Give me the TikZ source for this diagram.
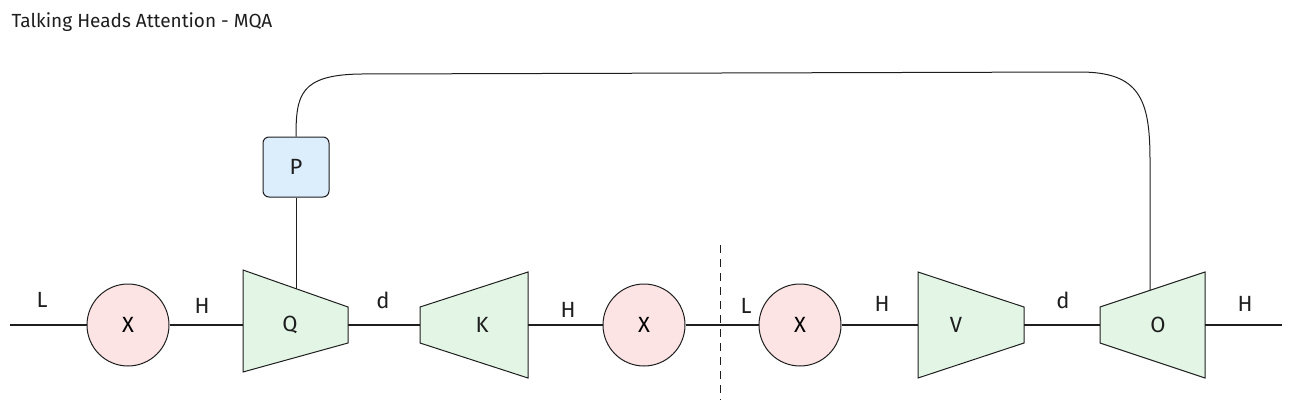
\documentclass[tikz,border=0pt]{standalone}
\usepackage{fontspec}
\setmainfont{Fira Sans}
\usetikzlibrary{patterns}
\definecolor{redf}{HTML}{FCE4E4}
\definecolor{greenf}{HTML}{E3F6E6}
\definecolor{bluef}{HTML}{DCEEFC}
\definecolor{ink}{HTML}{1E1E1E}
\tikzset{
  wire/.style={draw=ink,line width=1.2pt},
  mul/.style={circle,draw=ink,line width=1pt,fill=redf,minimum size=82pt,inner sep=0pt,font=\fontsize{22}{22}\selectfont},
  trap/.style={draw=ink,line width=1pt,fill=greenf},
  lbl/.style={font=\fontsize{22}{22}\selectfont,text=ink},
}
\begin{document}
\begin{tikzpicture}[x=1pt,y=-1pt]
\useasboundingbox (0,0) rectangle (1290,408);
\node[anchor=west,font=\fontsize{19}{19}\selectfont,text=ink] (title) at (8,22) {Talking Heads Attention - MQA};
% circles
\node[mul] (x1) at (128,325) {X};
\node[mul] (x2) at (644,325) {X};
\node[mul] (x3) at (800,325) {X};
% trapezoids
\draw[trap] (243,270) -- (348,307) -- (348,343) -- (243,372) -- cycle;
\node[lbl] (q) at (290,325) {Q};
\draw[trap] (420,307) -- (528,272) -- (528,378) -- (420,343) -- cycle;
\node[lbl] (k) at (482,325) {K};
\draw[trap] (918,272) -- (1024,307) -- (1024,343) -- (918,378) -- cycle;
\node[lbl] (v) at (956,325) {V};
\draw[trap] (1100,307) -- (1205,272) -- (1205,378) -- (1100,343) -- cycle;
\node[lbl] (o) at (1158,325) {O};
% P box
\node[draw=ink,line width=1pt,fill=bluef,rounded corners=6pt,minimum width=66pt,minimum height=60pt,lbl] (p) at (296,167) {P};
% coordinates
\coordinate (s) at (10,325);
\coordinate (e) at (1282,325);
\coordinate (qin) at (243,325);
\coordinate (qout) at (348,325);
\coordinate (kin) at (420,325);
\coordinate (kout) at (528,325);
\coordinate (vin) at (918,325);
\coordinate (vout) at (1024,325);
\coordinate (oin) at (1100,325);
\coordinate (oout) at (1205,325);
\coordinate (qtop) at (296,289);
\coordinate (otop) at (1150,290);
% wires
\draw[wire] (s) -- (x1.west);
\draw[wire] (x1.east) -- (qin);
\draw[wire] (qout) -- (kin);
\draw[wire] (kout) -- (x2.west);
\draw[wire] (x2.east) -- (x3.west);
\draw[wire] (x3.east) -- (vin);
\draw[wire] (vout) -- (oin);
\draw[wire] (oout) -- (e);
\draw[ink,line width=1pt] (p.south) -- (qtop);
\draw[ink,line width=1pt] (p.north) .. controls (296,95) and (300,75) .. (360,74)
  -- (1080,72) .. controls (1140,72) and (1150,100) .. (1150,160) -- (otop);
\draw[ink,line width=1pt,dashed,dash pattern=on 8pt off 6pt] (720,245) -- (720,400);
% labels
\node[lbl] (l1) at (42,300) {L};
\node[lbl] (h1) at (202,306) {H};
\node[lbl] (d1) at (383,300) {d};
\node[lbl] (h2) at (568,310) {H};
\node[lbl] (l2) at (746,306) {L};
\node[lbl] (h3) at (882,304) {H};
\node[lbl] (d2) at (1063,300) {d};
\node[lbl] (h4) at (1245,304) {H};
\end{tikzpicture}
\end{document}
